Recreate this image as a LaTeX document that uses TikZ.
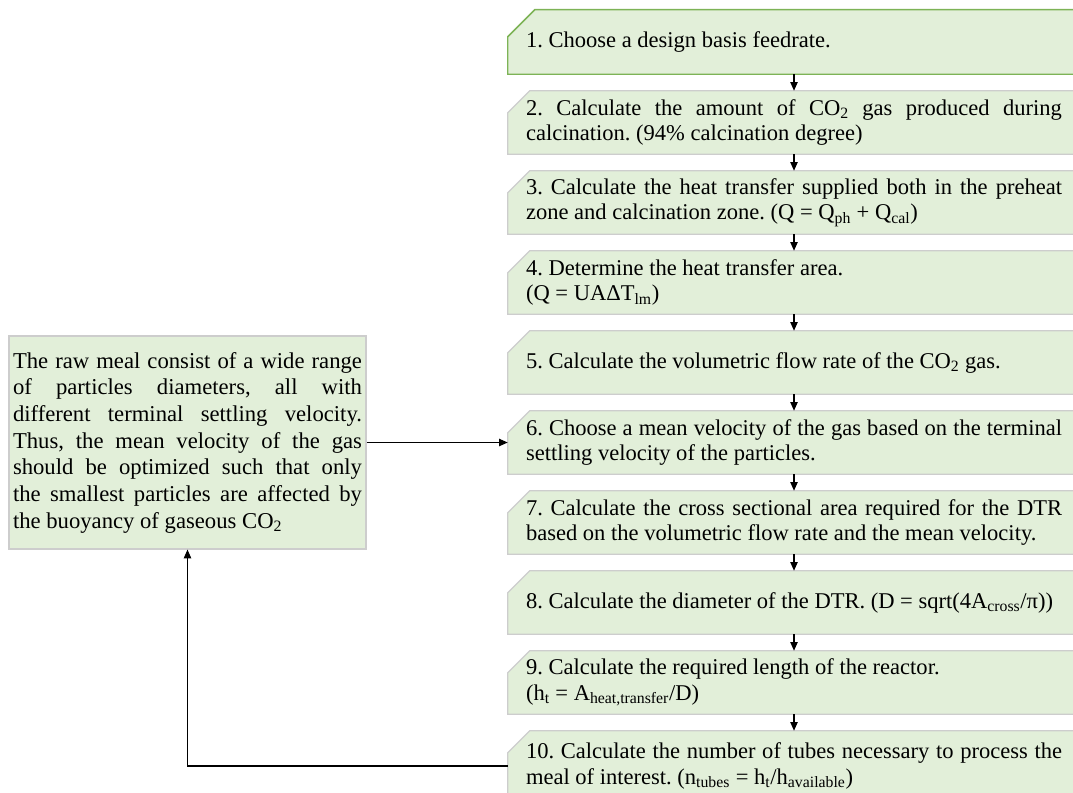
\documentclass[tikz,border=0pt]{standalone}
\usepackage{fontspec}
\setmainfont{Liberation Serif}
\usetikzlibrary{arrows.meta,backgrounds,calc}
\frenchspacing
\definecolor{boxfill}{HTML}{E2EFD9}
\definecolor{boxline}{HTML}{CDCDCD}
\definecolor{greenline}{HTML}{7DB356}
\newcommand{\snipshape}[3]{\path[#3] ($(#1.north west)+(0,#2)$) -- ($(#1.north west)+(#2,0)$) -- (#1.north east) -- (#1.south east) -- (#1.south west) -- cycle;}
\tikzset{
  stepbox/.style={inner xsep=13.5pt, inner ysep=0pt, text width=402pt, align=justify,
    font=\fontsize{16.9pt}{19.2pt}\selectfont},
  notebox/.style={inner xsep=3pt, inner ysep=0pt, text width=261.75pt, align=justify,
    minimum height=159.75pt, fill=boxfill, draw=boxline, line width=0.9pt,
    font=\fontsize{17pt}{20pt}\selectfont},
  greyshape/.style={fill=boxfill, draw=boxline, line width=0.9pt},
  greenshape/.style={fill=boxfill, draw=greenline, line width=1.1pt},
  arr/.style={draw=black, line width=0.9pt, -{Triangle[length=6.5pt,width=5.5pt]}}
}
\begin{document}
\begin{tikzpicture}[x=0.75pt,y=-0.75pt]
\useasboundingbox (0,0) rectangle (1073,792);

\node[stepbox, minimum height=48pt] (b1) at (794,42) {1. Choose a design basis feedrate.};
\node[stepbox, minimum height=47.25pt] (b2) at (794,122.5) {2. Calculate the amount of CO\textsubscript{2} gas produced during\linebreak calcination. (94\% calcination degree)};
\node[stepbox, minimum height=47.25pt] (b3) at (794,202.5) {3. Calculate the heat transfer supplied both in the preheat\linebreak zone and calcination zone. (Q = Q\textsubscript{ph} + Q\textsubscript{cal})};
\node[stepbox, minimum height=47.25pt] (b4) at (794,282.5) {4. Determine the heat transfer area.\newline (Q = UAΔT\textsubscript{lm})};
\node[stepbox, minimum height=47.25pt] (b5) at (794,362.5) {5. Calculate the volumetric flow rate of the CO\textsubscript{2} gas.};
\node[stepbox, minimum height=47.25pt] (b6) at (794,442.5) {6. Choose a mean velocity of the gas based on the terminal\linebreak settling velocity of the particles.};
\node[stepbox, minimum height=47.25pt] (b7) at (794,522.5) {7. Calculate the cross sectional area required for the DTR\linebreak based on the volumetric flow rate and the mean velocity.};
\node[stepbox, minimum height=47.25pt] (b8) at (794,602.5) {8. Calculate the diameter of the DTR. (D = sqrt(4A\textsubscript{cross}/π))};
\node[stepbox, minimum height=47.25pt] (b9) at (794,682.5) {9. Calculate the required length of the reactor.\newline (h\textsubscript{t} = A\textsubscript{heat,transfer}/D)};
\node[stepbox, minimum height=52.5pt] (b10) at (794,766) {10. Calculate the number of tubes necessary to process the\linebreak meal of interest. (n\textsubscript{tubes} = h\textsubscript{t}/h\textsubscript{available})};

\node[notebox] (note) at (187.5,442.5) {The raw meal consist of a wide range\linebreak of particles diameters, all with\linebreak different terminal settling velocity.\linebreak Thus, the mean velocity of the gas\linebreak should be optimized such that only\linebreak the smallest particles are affected by\linebreak the buoyancy of gaseous CO\textsubscript{2}};

\begin{scope}[on background layer]
  \snipshape{b1}{27}{greenshape}
  \snipshape{b2}{22}{greyshape}
  \snipshape{b3}{22}{greyshape}
  \snipshape{b4}{22}{greyshape}
  \snipshape{b5}{22}{greyshape}
  \snipshape{b6}{22}{greyshape}
  \snipshape{b7}{22}{greyshape}
  \snipshape{b8}{22}{greyshape}
  \snipshape{b9}{22}{greyshape}
  \snipshape{b10}{22}{greyshape}
\end{scope}

\draw[arr] (b1.south) -- (b2.north);
\draw[arr] (b2.south) -- (b3.north);
\draw[arr] (b3.south) -- (b4.north);
\draw[arr] (b4.south) -- (b5.north);
\draw[arr] (b5.south) -- (b6.north);
\draw[arr] (b6.south) -- (b7.north);
\draw[arr] (b7.south) -- (b8.north);
\draw[arr] (b8.south) -- (b9.north);
\draw[arr] (b9.south) -- (b10.north);

\draw[arr] (note.east) -- (note.east -| b6.west);
\draw[arr] (b10.west) -| (note.south);
\end{tikzpicture}
\end{document}
